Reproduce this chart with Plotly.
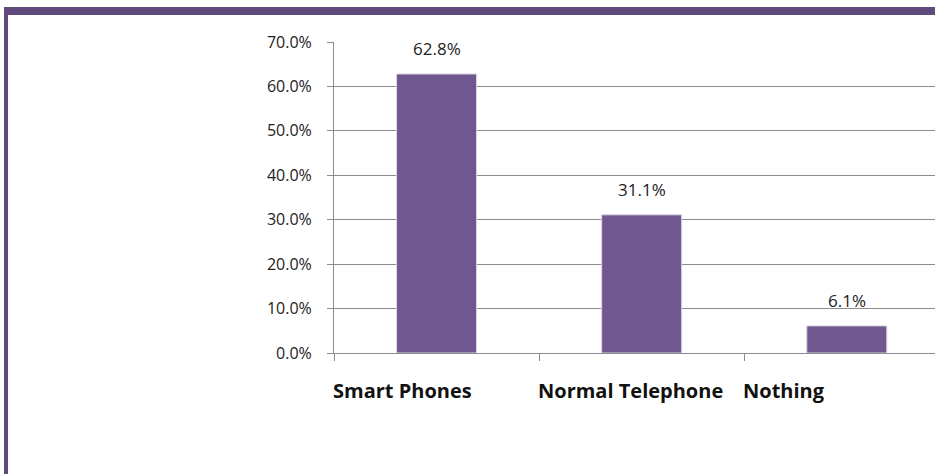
import plotly.graph_objects as go

# Device ownership shares
categories = ["Smart Phones", "Normal Telephone", "Nothing"]
shares = [62.8, 31.1, 6.1]
y_ticks = [0, 10, 20, 30, 40, 50, 60, 70]
y_tick_labels = [f"{v:.1f}%" for v in y_ticks]

BAR = "#70578F"
FRAME = "#5F4A7B"
GRID = "#8C8C8C"

# plot-area geometry in pixels (used to place the page frame in paper units)
W, H = 935, 474
L, R, T, B = 334, 0, 42, 121
PW, PH = W - L - R, H - T - B


def px_x(px):
    return (px - L) / PW


def px_y(py):
    return (H - B - py) / PH


fig = go.Figure(
    go.Bar(
        x=categories,
        y=shares,
        marker=dict(color=BAR, line=dict(color="#DAD5E2", width=1)),
        hoverinfo="skip",
    )
)

# value labels above each bar
for cat, v in zip(categories, shares):
    fig.add_annotation(
        x=cat, y=v, text=f"{v:.1f}%", showarrow=False,
        xanchor="center", yanchor="bottom", yshift=12,
        font=dict(family="Open Sans", size=17, color="#222222"),
    )

# category labels, left-aligned at each category boundary
for i, cat in enumerate(categories):
    fig.add_annotation(
        x=i - 0.5, y=0, yref="y", text=f"<b>{cat}</b>", showarrow=False,
        xanchor="left", yanchor="top", yshift=-22, xshift=-3,
        font=dict(family="Open Sans", size=20, color="#111111"),
    )

# document frame: top band and left band
fig.add_shape(type="rect", xref="paper", yref="paper",
              x0=px_x(4), x1=1.0, y0=px_y(15), y1=px_y(7),
              fillcolor=FRAME, line=dict(width=0), layer="above")
fig.add_shape(type="rect", xref="paper", yref="paper",
              x0=px_x(4), x1=px_x(8), y0=px_y(H), y1=px_y(7),
              fillcolor=FRAME, line=dict(width=0), layer="above")

fig.update_layout(
    width=W, height=H,
    margin=dict(l=L, r=R, t=T, b=B),
    paper_bgcolor="white", plot_bgcolor="white",
    bargap=0.61,
    showlegend=False,
    font=dict(family="Open Sans", color="#222222"),
    xaxis=dict(
        type="category", range=[-0.5, 2.43],
        showticklabels=False, tickson="boundaries",
        ticks="outside", ticklen=7, tickcolor=GRID, tickwidth=1,
        showline=True, linecolor=GRID, linewidth=1,
        showgrid=False, zeroline=False, fixedrange=True,
    ),
    yaxis=dict(
        range=[0, 70], tickvals=y_ticks, ticktext=y_tick_labels,
        ticks="outside", ticklen=6, tickcolor=GRID, tickwidth=1,
        ticklabelstandoff=12,
        showline=True, linecolor=GRID, linewidth=1,
        showgrid=True, gridcolor=GRID, gridwidth=1,
        zeroline=False, fixedrange=True,
        tickfont=dict(family="Open Sans", size=16, color="#222222"),
    ),
)

fig.write_html("out.html")
